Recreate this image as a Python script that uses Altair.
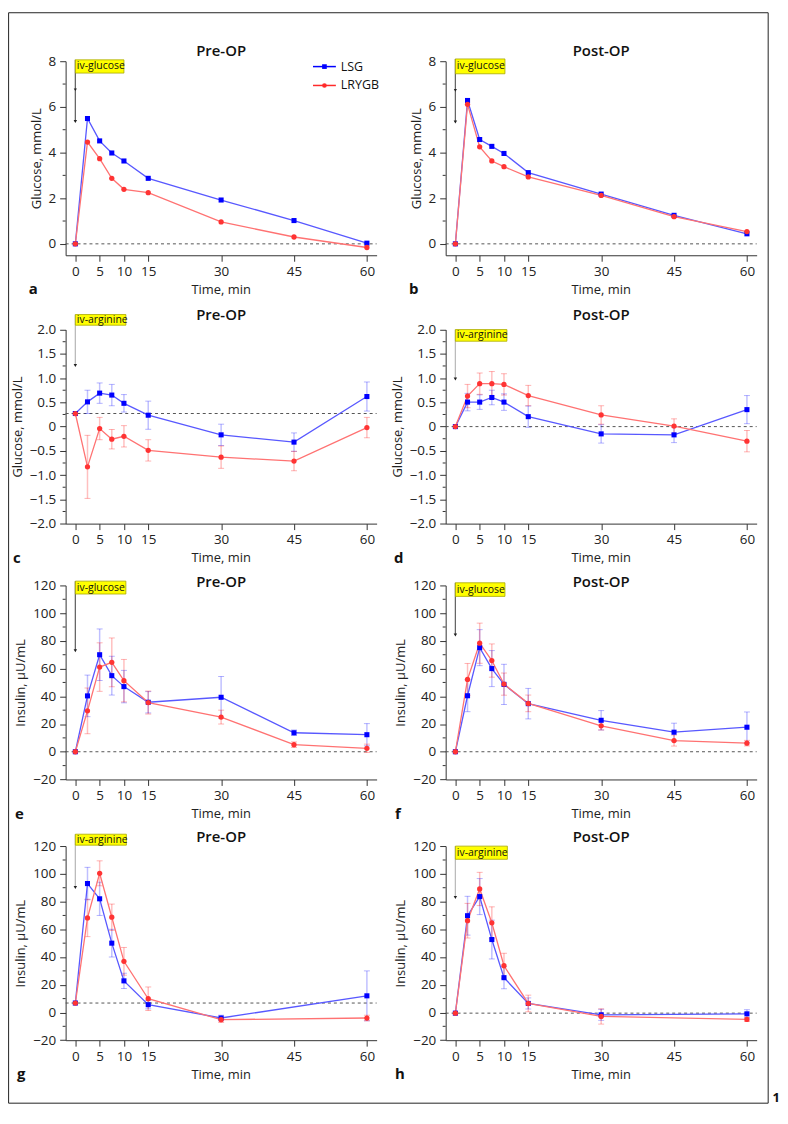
import altair as alt
import pandas as pd

# ---------------- data ----------------
SERIES = ["LSG", "LRYGB"]
TIME = [0, 2.5, 5, 7.5, 10, 15, 30, 45, 60]
TIME_ARG_INS = [0, 2.5, 5, 7.5, 10, 15, 30, 60]
X_TICKS = [0, 5, 10, 15, 30, 45, 60]

# a: glucose after iv-glucose, Pre-OP
A_LSG = [0, 5.49, 4.51, 3.98, 3.63, 2.87, 1.92, 1.02, 0.03]
A_LRYGB = [0, 4.46, 3.73, 2.87, 2.39, 2.24, 0.96, 0.30, -0.16]
# b: glucose after iv-glucose, Post-OP
B_LSG = [0, 6.28, 4.57, 4.27, 3.96, 3.12, 2.18, 1.25, 0.44]
B_LRYGB = [0, 6.11, 4.25, 3.63, 3.38, 2.93, 2.12, 1.19, 0.54]
# c: glucose after iv-arginine, Pre-OP
C_LSG = [0.27, 0.51, 0.69, 0.65, 0.48, 0.235, -0.17, -0.32, 0.62]
C_LSG_ERR = [0, 0.24, 0.21, 0.22, 0.18, 0.29, 0.22, 0.19, 0.30]
C_LRYGB = [0.27, -0.83, -0.04, -0.26, -0.20, -0.49, -0.63, -0.71, -0.02]
C_LRYGB_ERR = [0, 0.65, 0.23, 0.20, 0.22, 0.22, 0.23, 0.20, 0.21]
# d: glucose after iv-arginine, Post-OP
D_LSG = [0, 0.505, 0.505, 0.60, 0.505, 0.205, -0.15, -0.17, 0.35]
D_LSG_ERR = [0, 0.18, 0.15, 0.15, 0.17, 0.22, 0.19, 0.16, 0.29]
D_LRYGB = [0, 0.63, 0.885, 0.885, 0.87, 0.64, 0.24, 0.01, -0.30]
D_LRYGB_ERR = [0, 0.24, 0.22, 0.25, 0.22, 0.21, 0.19, 0.15, 0.22]
# e: insulin after iv-glucose, Pre-OP
E_LSG = [0, 40.3, 70, 54.9, 47, 35.7, 39.3, 13.7, 12.3]
E_LSG_ERR = [0, 15, 18.6, 14, 11.7, 7.7, 15, 2, 8]
E_LRYGB = [0, 29.5, 61.1, 64.5, 51.3, 35.5, 25, 5.1, 2.5]
E_LRYGB_ERR = [0, 16.5, 17.5, 17.6, 15.3, 8.3, 5, 2, 3]
# f: insulin after iv-glucose, Post-OP
F_LSG = [0, 40.4, 75.1, 60, 48.6, 34.7, 22.7, 14.1, 17.7]
F_LSG_ERR = [0, 11.5, 13, 13, 14.5, 11, 7, 6.5, 11]
F_LRYGB = [0, 52.2, 78.3, 65.8, 48.8, 34.9, 18.7, 8.1, 6.2]
F_LRYGB_ERR = [0, 11.5, 14.5, 12, 8, 6, 3, 4, 2]
# g: insulin after iv-arginine, Pre-OP
G_LSG = [6.8, 93, 82, 50, 22.8, 5.6, -4, 12]
G_LSG_ERR = [0, 11.7, 12, 10, 5.5, 3, 2, 18]
G_LRYGB = [6.8, 68.2, 100.4, 68.7, 36.9, 9.9, -5.2, -4]
G_LRYGB_ERR = [0, 13.5, 9, 9.5, 10, 8.5, 2, 2]
# h: insulin after iv-arginine, Post-OP
H_LSG = [-0.5, 69.8, 83.6, 52.6, 25.1, 6.5, -1.7, -1.0]
H_LSG_ERR = [0, 14, 13, 14, 8, 4, 4, 3]
H_LRYGB = [-0.5, 66.2, 89.1, 64.7, 33.7, 6.5, -2.9, -5]
H_LRYGB_ERR = [0, 12.5, 12, 11.5, 9, 6, 5.5, 1.5]

BASELINES = [0, 0, 0.27, 0, 0, 0, 6.8, -0.5]
TITLES = ["Pre-OP", "Post-OP"] * 4
LETTERS = ["a", "b", "c", "d", "e", "f", "g", "h"]
AGENTS = ["iv-glucose", "iv-glucose", "iv-arginine", "iv-arginine",
          "iv-glucose", "iv-glucose", "iv-arginine", "iv-arginine"]
GLU_TITLE = "Glucose, mmol/L"
INS_TITLE = "Insulin, µU/mL"
X_TITLE = "Time, min"

# annotation boxes (data units): top, bottom, width in minutes; arrow tip value
BOX_TOP = [8.06, 8.1, 2.31, 2.0, 123.1, 121.9, 128.6, 120.0]
BOX_BOT = [7.48, 7.45, 2.09, 1.76, 113.8, 112.1, 120.7, 110.5]
BOX_W = [10.0, 10.2, 10.4, 10.6, 10.4, 10.2, 10.5, 10.7]
ARROW_TIP = [5.36, 5.34, 1.26, 0.98, 72.9, 84.2, 90.1, 82.9]
ARROW_MID = [6.75, 6.72, None, None, None, None, None, None]

# ---------------- layout / style ----------------
W = 313
PH = 195.3
ROW_SP = 61.3
COL_SP = 69.5
ROW_OFF = [0, 12.8, 0, 5.1]
TITLE_DY = [-5, -10, 1.7, -4.3]
LETTER_DX = [-37, -37, -53, -52, -51, -51, -49, -51]

FONT = "Open Sans"
AX = "#333333"
LSG_LINE, LSG_MARK = "#5858ff", "#0000ff"
RYGB_LINE, RYGB_MARK = "#ff7272", "#ff3333"

LBL_INT = "format(datum.value, 'd')"
LBL_DEC = "datum.value == 0 ? '0' : format(datum.value, '.1f')"


def panel(i, times, lsg, rygb, lsg_err, rygb_err, ydom, ymajor, yminor, ytitle, lbl):
    row = i // 2
    o = ROW_OFF[row]
    H = PH + o
    xs = alt.Scale(domain=[-2, 62], nice=False, zero=False)
    ys = alt.Scale(domain=ydom, range=[H, o], nice=False, zero=False)
    xaxis = alt.Axis(values=X_TICKS, title=None, grid=False, tickSize=6, labelPadding=3,
                     labelFontSize=13.5, labelFont=FONT, labelColor="#222", domainColor=AX,
                     tickColor=AX, labelFlush=False, format="d")
    yaxis = alt.Axis(values=ymajor, title=ytitle, grid=False, tickSize=6, labelPadding=4,
                     labelFontSize=13.5, labelFont=FONT, labelColor="#222", labelExpr=lbl,
                     domainColor=AX, tickColor=AX, titleFont=FONT, titleFontSize=13,
                     titleFontWeight="normal", titleColor="#222", titlePadding=5)

    def X(f):
        return alt.X(f, type="quantitative", scale=xs, axis=xaxis)

    def Y(f):
        return alt.Y(f, type="quantitative", scale=ys, axis=yaxis)

    layers = []
    # dashed baseline
    base = alt.Chart(pd.DataFrame({"b": [BASELINES[i]]})).mark_rule(
        color="#555", strokeDash=[3, 3], strokeWidth=1).encode(
        y=Y("b"), x=alt.value(0), x2=alt.value(W))
    layers.append(base)

    # arrow + annotation box
    ann = pd.DataFrame({"x1": [0], "x2": [BOX_W[i]], "top": [BOX_TOP[i]], "bot": [BOX_BOT[i]],
                        "mid": [(BOX_TOP[i] + BOX_BOT[i]) / 2], "tip": [ARROW_TIP[i]],
                        "lab": [AGENTS[i]]})
    arrow_col = "#666" if AGENTS[i] == "iv-glucose" else "#bbbbbb"
    layers.append(alt.Chart(ann).mark_rule(color=arrow_col, strokeWidth=1.3).encode(
        x=X("x1"), y=Y("top"), y2="tip"))
    layers.append(alt.Chart(ann).mark_point(shape="triangle-down", filled=True, size=12,
                                            color="#222", opacity=1).encode(x=X("x1"), y=Y("tip")))
    if ARROW_MID[i] is not None:
        mid = pd.DataFrame({"x1": [0], "m": [ARROW_MID[i]]})
        layers.append(alt.Chart(mid).mark_point(shape="triangle-down", filled=True, size=10,
                                                color="#222", opacity=1).encode(x=X("x1"), y=Y("m")))
    layers.append(alt.Chart(ann).mark_rect(fill="#ffff00", stroke="#a8a800", strokeWidth=0.8).encode(
        x=X("x1"), x2="x2", y=Y("top"), y2="bot"))
    layers.append(alt.Chart(ann).mark_text(align="left", baseline="middle", dx=1.5, fontSize=10.5,
                                           font=FONT, color="#111").encode(
        x=X("x1"), y=Y("mid"), text="lab:N"))

    # error bars
    specs = [(SERIES[0], lsg, lsg_err, LSG_LINE, LSG_MARK, "square"),
             (SERIES[1], rygb, rygb_err, RYGB_LINE, RYGB_MARK, "circle")]
    for name, vals, errs, lc, mc, shp in specs:
        if errs is None:
            continue
        d = pd.DataFrame({"t": times, "v": vals, "e": errs})
        d = d[d["e"] > 0]
        d["lo"] = d["v"] - d["e"]
        d["hi"] = d["v"] + d["e"]
        ebc = "#0000ff" if name == "LSG" else "#ff0000"
        layers.append(alt.Chart(d).mark_rule(color=ebc, opacity=0.25, strokeWidth=1.5).encode(
            x=X("t"), y=Y("lo"), y2="hi"))
        for end in ("lo", "hi"):
            layers.append(alt.Chart(d).mark_tick(orient="horizontal", size=6, thickness=1,
                                                 color=ebc, opacity=0.3).encode(x=X("t"), y=Y(end)))
    # lines and markers
    for name, vals, errs, lc, mc, shp in specs:
        d = pd.DataFrame({"t": times, "v": vals})
        layers.append(alt.Chart(d).mark_line(color=lc, strokeWidth=1.3).encode(x=X("t"), y=Y("v")))
    for name, vals, errs, lc, mc, shp in specs:
        d = pd.DataFrame({"t": times, "v": vals})
        layers.append(alt.Chart(d).mark_point(shape=shp, filled=True, size=26 if shp == "square" else 28,
                                              color=mc, opacity=1).encode(x=X("t"), y=Y("v")))

    # minor ticks on y axis
    layers.append(alt.Chart(pd.DataFrame({"m": yminor})).mark_rule(color=AX, strokeWidth=1).encode(
        y=Y("m"), x=alt.value(0), x2=alt.value(-3)))

    # panel title, x title, letter
    one = pd.DataFrame({"title": [TITLES[i]], "xt": [X_TITLE], "letter": [LETTERS[i]]})
    layers.append(alt.Chart(one).mark_text(fontSize=15, fontWeight=600, font=FONT, color="#111",
                                           align="center", baseline="alphabetic").encode(
        x=alt.value(W / 2), y=alt.value(o + TITLE_DY[row]), text="title:N"))
    layers.append(alt.Chart(one).mark_text(fontSize=13, font=FONT, color="#222",
                                           align="center", baseline="alphabetic").encode(
        x=alt.value(W / 2), y=alt.value(H + 38.7), text="xt:N"))
    layers.append(alt.Chart(one).mark_text(fontSize=15, fontWeight="bold", font=FONT, color="#111",
                                           align="left", baseline="alphabetic").encode(
        x=alt.value(LETTER_DX[i]), y=alt.value(H + 39.4), text="letter:N"))

    if i == 0:
        # legend
        for k, (name, lc, shp) in enumerate([(SERIES[0], "#0000ff", "square"),
                                             (SERIES[1], "#ff2a2a", "circle")]):
            ly = 5.4 + 19 * k
            lg = pd.DataFrame({"s": [name]})
            layers.append(alt.Chart(lg).mark_rule(color=lc, strokeWidth=1.5).encode(
                x=alt.value(249), x2=alt.value(272), y=alt.value(ly)))
            layers.append(alt.Chart(lg).mark_point(shape=shp, filled=True, size=22, color=lc,
                                                   opacity=1).encode(
                x=alt.value(260.5), y=alt.value(ly)))
            layers.append(alt.Chart(lg).mark_text(align="left", baseline="middle", fontSize=12.5,
                                                  font=FONT, color="#111").encode(
                x=alt.value(277), y=alt.value(ly), text="s:N"))
        # figure frame and number
        fr = pd.DataFrame({"n": ["1"]})
        layers.append(alt.Chart(fr).mark_rect(filled=False, stroke="#222", strokeWidth=1).encode(
            x=alt.value(-57.4), x2=alt.value(707.1), y=alt.value(-48.8), y2=alt.value(1048.7)))
        layers.append(alt.Chart(fr).mark_text(align="left", baseline="alphabetic", fontSize=13,
                                              fontWeight="bold", font=FONT, color="#111").encode(
            x=alt.value(711.5), y=alt.value(1048.0), text="n:N"))

    return alt.layer(*layers).properties(width=W, height=H)


GLU_DOM = [-0.5, 8]
GLU_MAJ = [0, 2, 4, 6, 8]
GLU_MIN = [1, 3, 5, 7]
ARG_DOM = [-2, 2]
ARG_MAJ = [-2, -1.5, -1, -0.5, 0, 0.5, 1, 1.5, 2]
ARG_MIN = [-1.75, -1.25, -0.75, -0.25, 0.25, 0.75, 1.25, 1.75]
INS_DOM = [-20, 120]
INS_MAJ = [-20, 0, 20, 40, 60, 80, 100, 120]
INS_MIN = [-10, 10, 30, 50, 70, 90, 110]

panels = [
    panel(0, TIME, A_LSG, A_LRYGB, None, None, GLU_DOM, GLU_MAJ, GLU_MIN, GLU_TITLE, LBL_INT),
    panel(1, TIME, B_LSG, B_LRYGB, None, None, GLU_DOM, GLU_MAJ, GLU_MIN, GLU_TITLE, LBL_INT),
    panel(2, TIME, C_LSG, C_LRYGB, C_LSG_ERR, C_LRYGB_ERR, ARG_DOM, ARG_MAJ, ARG_MIN, GLU_TITLE, LBL_DEC),
    panel(3, TIME, D_LSG, D_LRYGB, D_LSG_ERR, D_LRYGB_ERR, ARG_DOM, ARG_MAJ, ARG_MIN, GLU_TITLE, LBL_DEC),
    panel(4, TIME, E_LSG, E_LRYGB, E_LSG_ERR, E_LRYGB_ERR, INS_DOM, INS_MAJ, INS_MIN, INS_TITLE, LBL_INT),
    panel(5, TIME, F_LSG, F_LRYGB, F_LSG_ERR, F_LRYGB_ERR, INS_DOM, INS_MAJ, INS_MIN, INS_TITLE, LBL_INT),
    panel(6, TIME_ARG_INS, G_LSG, G_LRYGB, G_LSG_ERR, G_LRYGB_ERR, INS_DOM, INS_MAJ, INS_MIN, INS_TITLE, LBL_INT),
    panel(7, TIME_ARG_INS, H_LSG, H_LRYGB, H_LSG_ERR, H_LRYGB_ERR, INS_DOM, INS_MAJ, INS_MIN, INS_TITLE, LBL_INT),
]

chart = alt.concat(*panels, columns=2, spacing={"row": ROW_SP, "column": COL_SP},
                   bounds="flush").properties(padding=0, background="white").configure_view(stroke=None)

chart.save("out.html", embed_options={"renderer": "svg", "actions": False})
